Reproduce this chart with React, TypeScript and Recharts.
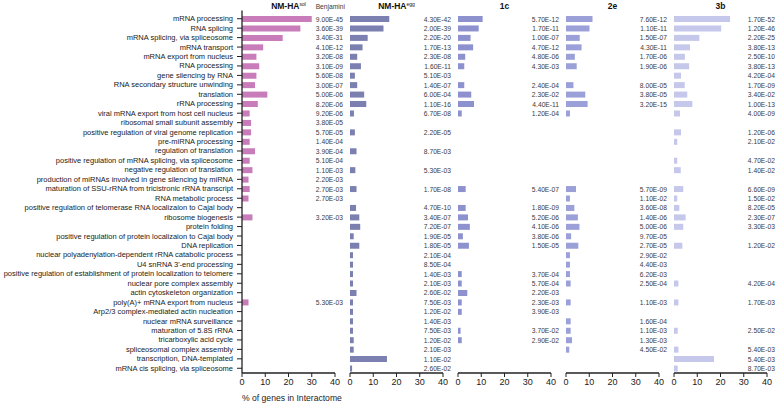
import React from "react";
import { BarChart, Bar, XAxis, YAxis, LabelList } from "recharts";

const categories = [
  "mRNA processing",
  "RNA splicing",
  "mRNA splicing, via spliceosome",
  "mRNA transport",
  "mRNA export from nucleus",
  "RNA processing",
  "gene silencing by RNA",
  "RNA secondary structure unwinding",
  "translation",
  "rRNA processing",
  "viral mRNA export from host cell nucleus",
  "ribosomal small subunit assembly",
  "positive regulation of viral genome replication",
  "pre-miRNA processing",
  "regulation of translation",
  "positive regulation of mRNA splicing, via spliceosome",
  "negative regulation of translation",
  "production of miRNAs involved in gene silencing by miRNA",
  "maturation of SSU-rRNA from tricistronic rRNA transcript",
  "RNA metabolic process",
  "positive regulation of telomerase RNA localizaion to Cajal body",
  "ribosome biogenesis",
  "protein folding",
  "positive regulation of protein localizaion to Cajal body",
  "DNA replication",
  "nuclear polyadenylation-dependent rRNA catabolic process",
  "U4 snRNA 3'-end processing",
  "positive regulation of establishment of protein localization to telomere",
  "nuclear pore complex assembly",
  "actin cytoskeleton organization",
  "poly(A)+ mRNA export from nucleus",
  "Arp2/3 complex-mediated actin nucleation",
  "nuclear mRNA surveillance",
  "maturation of 5.8S rRNA",
  "tricarboxylic acid cycle",
  "spliceosomal complex assembly",
  "transcription, DNA-templated",
  "mRNA cis splicing, via spliceosome",
];

const _ = null;

// % of genes in interactome
const solPct = [30.0, 25.1, 17.5, 9.1, 6.2, 7.4, 6.2, 5.6, 10.9, 6.8, 3.3, 3.9, 3.9, 3.3, 5.6, 3.3, 4.5, 2.8, 3.3, 2.8, _, 4.5, _, _, _, _, _, _, _, _, 2.8, _, _, _, _, _, _, _];
const eggPct = [16.9, 14.4, 7.6, 5.4, 3.1, 4.7, 2.1, 3.1, 6.1, 7.0, 1.7, _, 2.1, _, 2.8, _, 2.3, _, 2.8, _, 2.6, 4.0, 4.4, 1.6, 4.0, 1.3, 1.3, 1.3, 1.3, 2.8, 1.3, 1.3, 1.3, 1.3, 1.6, 1.6, 15.9, 0.9];
const c1Pct = [10.6, 8.9, 5.4, 6.5, 3.1, 2.7, _, 2.7, 5.7, 6.9, 1.6, _, _, _, _, _, _, _, 3.3, _, 3.3, 4.3, 5.1, 2.1, 4.7, _, _, 1.6, 1.6, 4.0, 1.6, 1.6, _, 1.1, 1.6, _, _, _];
const e2Pct = [11.4, 10.1, 5.9, 6.7, 3.8, 4.6, _, 3.2, 8.3, 9.3, 1.7, _, _, _, _, _, _, _, 4.3, 1.7, 3.6, 5.1, 5.8, 2.2, 5.3, 1.7, 1.7, 1.7, 2.0, _, 2.0, _, 2.0, 2.0, 2.6, 1.4, _, _];
const b3Pct = [24.1, 20.3, 10.9, 6.9, 4.7, 6.5, 3.0, 4.6, 5.7, 7.9, 2.6, _, 3.0, 1.4, _, 1.4, 2.9, _, 4.0, 1.4, 2.3, 5.0, 4.0, _, 3.6, _, _, _, 1.9, _, 1.9, _, _, 1.6, _, 1.9, 17.2, 1.6];

// Benjamini values
const solP = ["9.00E-45", "3.60E-39", "3.40E-31", "4.10E-12", "3.20E-08", "3.10E-09", "5.60E-08", "3.00E-07", "5.00E-06", "8.20E-06", "9.20E-06", "3.80E-05", "5.70E-05", "1.40E-04", "3.90E-04", "5.10E-04", "1.10E-03", "2.20E-03", "2.70E-03", "2.70E-03", "", "3.20E-03", "", "", "", "", "", "", "", "", "5.30E-03", "", "", "", "", "", "", ""];
const eggP = ["4.30E-42", "2.00E-39", "2.20E-20", "1.70E-13", "2.30E-08", "1.60E-11", "5.10E-03", "1.40E-07", "6.00E-04", "1.10E-16", "6.70E-08", "", "2.20E-05", "", "8.70E-03", "", "5.30E-03", "", "1.70E-08", "", "4.70E-10", "3.40E-07", "7.20E-07", "1.90E-05", "1.80E-05", "2.10E-04", "8.50E-04", "1.40E-03", "2.10E-03", "2.60E-02", "7.50E-03", "1.20E-02", "1.40E-03", "7.50E-03", "1.20E-02", "2.10E-03", "1.10E-02", "2.60E-02"];
const c1P = ["5.70E-12", "1.70E-11", "1.00E-07", "4.70E-12", "4.80E-06", "4.30E-03", "", "2.40E-04", "2.30E-02", "4.40E-11", "1.20E-04", "", "", "", "", "", "", "", "5.40E-07", "", "1.80E-09", "5.20E-06", "4.10E-06", "3.80E-06", "1.50E-05", "", "", "3.70E-04", "5.70E-04", "2.20E-03", "2.30E-03", "3.90E-03", "", "3.70E-02", "2.90E-02", "", "", ""];
const e2P = ["7.60E-12", "1.10E-11", "1.50E-07", "4.30E-11", "1.70E-06", "1.90E-06", "", "8.00E-05", "3.80E-05", "3.20E-15", "", "", "", "", "", "", "", "", "5.70E-09", "1.10E-02", "3.60E-08", "1.40E-06", "5.00E-06", "9.70E-05", "2.70E-05", "2.90E-02", "4.40E-03", "6.20E-03", "2.50E-04", "", "1.10E-03", "", "1.60E-04", "1.10E-03", "1.30E-03", "4.50E-02", "", ""];
const b3P = ["1.70E-52", "1.20E-46", "2.20E-25", "3.80E-13", "2.50E-10", "3.80E-13", "4.20E-04", "1.70E-09", "3.40E-02", "1.00E-13", "4.00E-09", "", "1.20E-06", "2.10E-02", "", "4.70E-02", "1.40E-02", "", "6.60E-09", "1.50E-02", "8.20E-05", "2.30E-07", "3.30E-03", "", "1.20E-02", "", "", "", "4.20E-04", "", "1.70E-03", "", "", "2.50E-02", "", "5.40E-03", "5.40E-03", "8.70E-03"];

const xTicks = [0, 10, 20, 30, 40];

const panels = [
  { key: "sol", title: "NM-HA", sup: "sol", color: "#c87cb9", pct: solPct, p: solP },
  { key: "egg", title: "NM-HA", sup: "egg", color: "#7b80b0", pct: eggPct, p: eggP },
  { key: "c1", title: "1c", sup: "", color: "#8d92ce", pct: c1Pct, p: c1P },
  { key: "e2", title: "2e", sup: "", color: "#9ba0d8", pct: e2Pct, p: e2P },
  { key: "b3", title: "3b", sup: "", color: "#c5c8ea", pct: b3Pct, p: b3P },
];

const rows = categories.map((name, i) => {
  const r: Record<string, unknown> = { name };
  panels.forEach((pn) => {
    r[pn.key] = pn.pct[i];
    r[pn.key + "P"] = pn.p[i];
  });
  return r;
});

const FONT = "'Liberation Sans', Arial, sans-serif";
const AXIS = "#222";
const PLOT_W = 93;
const FIRST_LEFT = 242;
const STEP = 108;
const H = 404;
const X_AXIS_H = 31;

function CatTick({ x, y, payload }: any) {
  return (
    <text x={x} y={y} textAnchor="end" dominantBaseline="central" fontSize={7.5} fill="#222">
      {payload.value}
    </text>
  );
}

function pLabel(props: any) {
  const { x, y, height, value } = props;
  if (!value) return null;
  return (
    <text x={Number(x) + 101} y={Number(y) + Number(height) / 2} textAnchor="end" dominantBaseline="central" fontSize={6.7} fill="#3a3a3a">
      {value}
    </text>
  );
}

function Panel({ i }: { i: number }) {
  const pn = panels[i];
  const first = i === 0;
  const leftMargin = first ? 0 : 3;
  const yW = first ? FIRST_LEFT : 0;
  const width = yW + leftMargin + PLOT_W + 12;
  const divLeft = first ? 0 : FIRST_LEFT + STEP * i - leftMargin;
  return (
    <div style={{ position: "absolute", left: divLeft, top: 0 }}>
      <BarChart
        width={width}
        height={H}
        data={rows}
        layout="vertical"
        margin={{ top: 10.5, right: 12, bottom: 0, left: leftMargin }}
      >
        <XAxis
          type="number"
          domain={[0, 40]}
          ticks={xTicks}
          interval={0}
          height={X_AXIS_H}
          tickSize={4}
          tickMargin={2}
          tick={{ fontSize: 9, fill: AXIS }}
          axisLine={{ stroke: AXIS, strokeWidth: 1.3 }}
          tickLine={{ stroke: AXIS }}
        />
        <YAxis
          type="category"
          dataKey="name"
          width={yW}
          interval={0}
          padding={{ top: 3.5, bottom: 0 }}
          tick={first ? <CatTick /> : false}
          tickSize={first ? 5 : 0}
          tickMargin={4}
          tickLine={first ? { stroke: AXIS } : false}
          axisLine={{ stroke: AXIS, strokeWidth: 1.3 }}
        />
        <Bar dataKey={pn.key} fill={pn.color} barSize={6} isAnimationActive={false}>
          <LabelList dataKey={pn.key + "P"} content={pLabel} />
        </Bar>
      </BarChart>
    </div>
  );
}

export default function App() {
  return (
    <div style={{ position: "absolute", left: 0, top: 0, width: 775, height: H, background: "#fff", fontFamily: FONT }}>
      {panels.map((_p, i) => (
        <Panel key={i} i={i} />
      ))}
      <svg width={775} height={H} style={{ position: "absolute", left: 0, top: 0, pointerEvents: "none" }}>
        {panels.map((pn, i) => (
          <text key={i} x={FIRST_LEFT + STEP * i + PLOT_W / 2} y={8.5} textAnchor="middle" fontSize={8.5} fontWeight="bold" fill="#111">
            {pn.title}
            {pn.sup ? <tspan fontSize={5} fontWeight="normal" dy={-3}>{pn.sup}</tspan> : null}
          </text>
        ))}
        <text x={345} y={9} textAnchor="end" fontSize={6.7} fill="#3a3a3a">Benjamini</text>
        <text x={FIRST_LEFT} y={401} fontSize={8.6} fill="#222">% of genes in Interactome</text>
      </svg>
    </div>
  );
}
